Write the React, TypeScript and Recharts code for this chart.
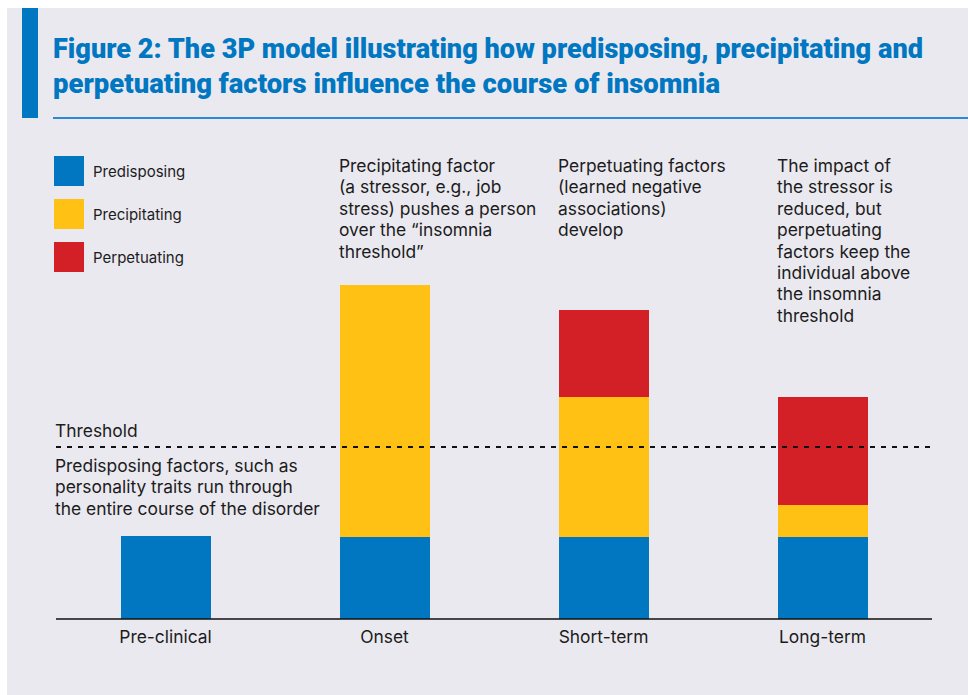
import { BarChart, Bar, XAxis, YAxis, ReferenceLine, LabelList } from 'recharts';

const categories = ['Pre-clinical', 'Onset', 'Short-term', 'Long-term'];
const predisposing = [4.15, 4.1, 4.1, 4.1];
const precipitating = [0, 12.6, 7.0, 1.6];
const perpetuating = [0, 0, 4.35, 5.4];
const threshold = 8.6;

const notes = [
  [],
  ['Precipitating factor', '(a stressor, e.g., job', 'stress) pushes a person', 'over the \u201cinsomnia', 'threshold\u201d'],
  ['Perpetuating factors', '(learned negative', 'associations)', 'develop'],
  ['The impact of', 'the stressor is', 'reduced, but', 'perpetuating', 'factors keep the', 'individual above', 'the insomnia', 'threshold'],
];

const legendItems = ['Predisposing', 'Precipitating', 'Perpetuating'];
const colors = ['#0077c0', '#ffc114', '#d31f26'];

const titleLines = [
  'Figure 2: The 3P model illustrating how predisposing, precipitating and',
  'perpetuating factors influence the course of insomnia',
];
const thresholdNote = ['Predisposing factors, such as', 'personality traits run through', 'the entire course of the disorder'];

const FONT = 'Inter, "Noto Sans", sans-serif';
const TEXT = '#1c1c1c';

function NoteLabel(props: any) {
  const { x, value } = props;
  if (!value) return null;
  const lines = String(value).split('|');
  return (
    <text x={x - 1} y={172} fill={TEXT} fontSize={17.4} fontFamily={FONT}>
      {lines.map((l, i) => (
        <tspan key={i} x={x - 1} dy={i === 0 ? 0 : 21.4}>{l}</tspan>
      ))}
    </text>
  );
}

export default function App() {
  const data = categories.map((name, i) => ({
    name,
    predisposing: predisposing[i],
    precipitating: precipitating[i],
    perpetuating: perpetuating[i],
    note: notes[i].join('|'),
  }));

  return (
    <div style={{ position: 'absolute', left: 0, top: 0, width: 968, height: 695, background: '#fff', overflow: 'hidden' }}>
      <div style={{ position: 'absolute', left: 7, top: 8, width: 961, height: 687, background: '#eae9f0' }} />
      <div style={{ position: 'absolute', left: 22, top: 8, width: 16, height: 110, background: '#0077c0' }} />
      <div style={{ position: 'absolute', left: 53, top: 117, width: 915, height: 2, background: '#2a8bd2' }} />

      <div style={{ position: 'absolute', left: 0, top: 0 }}>
        <BarChart width={968} height={695} data={data} margin={{ top: 219, right: 36, left: 56, bottom: 46 }}>
          <XAxis
            dataKey="name"
            height={30}
            tickLine={false}
            axisLine={{ stroke: '#111', strokeWidth: 1.5 }}
            tick={{ fill: TEXT, fontSize: 17.4, fontFamily: FONT }}
            tickMargin={6}
          />
          <YAxis hide domain={[0, 20]} />
          <Bar dataKey="predisposing" stackId="a" fill={colors[0]} barSize={90} isAnimationActive={false}>
            <LabelList dataKey="note" content={NoteLabel} />
          </Bar>
          <Bar dataKey="precipitating" stackId="a" fill={colors[1]} barSize={90} isAnimationActive={false} />
          <Bar dataKey="perpetuating" stackId="a" fill={colors[2]} barSize={90} isAnimationActive={false} />
          <ReferenceLine y={threshold} stroke="#111" strokeWidth={1.8} strokeDasharray="5 6" />
        </BarChart>
      </div>

      <svg width={968} height={695} style={{ position: 'absolute', left: 0, top: 0, pointerEvents: 'none' }}>
        <text x={53} y={58} fill="#0077c0" fontSize={28} fontWeight={900} fontFamily="Roboto, sans-serif" textLength={870} lengthAdjust="spacingAndGlyphs">
          {titleLines[0]}
        </text>
        <text x={53} y={93} fill="#0077c0" fontSize={28} fontWeight={900} fontFamily="Roboto, sans-serif" textLength={667} lengthAdjust="spacingAndGlyphs">
          {titleLines[1]}
        </text>

        {legendItems.map((item, i) => (
          <g key={item}>
            <rect x={54} y={156 + i * 43} width={30} height={30} fill={colors[i]} />
            <text x={93} y={177 + i * 43} fill={TEXT} fontSize={15} fontFamily={FONT}>{item}</text>
          </g>
        ))}

        <text x={55} y={437} fill={TEXT} fontSize={17.4} fontFamily={FONT}>Threshold</text>
        <text x={55} y={472} fill={TEXT} fontSize={17.4} fontFamily={FONT}>
          {thresholdNote.map((l, i) => (
            <tspan key={i} x={55} dy={i === 0 ? 0 : 21.3}>{l}</tspan>
          ))}
        </text>
      </svg>
    </div>
  );
}
